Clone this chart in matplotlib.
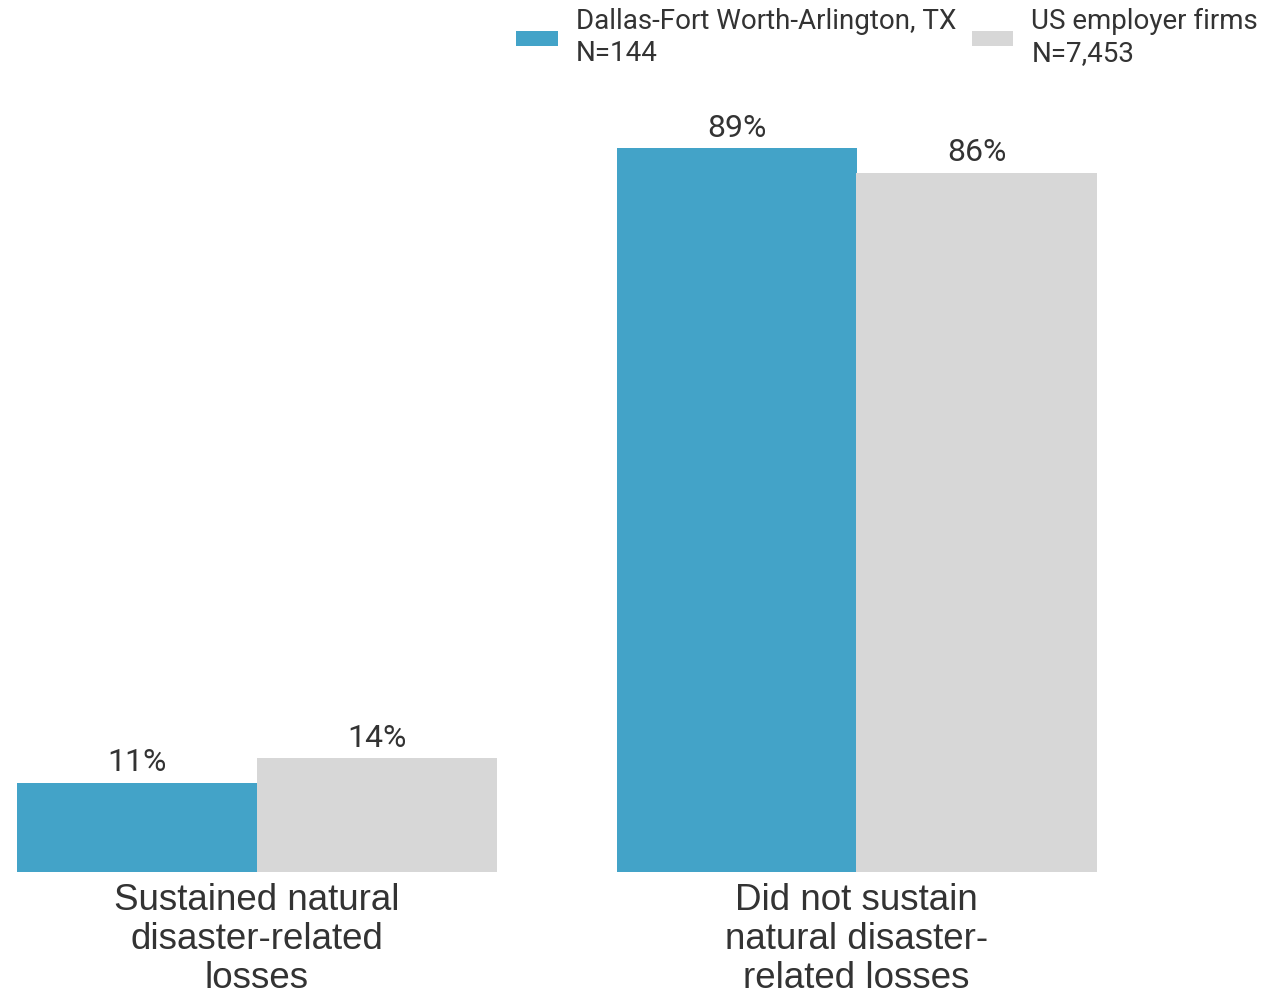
import numpy as np
import matplotlib.pyplot as plt

categories = ["Sustained natural\ndisaster-related\nlosses",
              "Did not sustain\nnatural disaster-\nrelated losses"]
series_names = ["Dallas-Fort Worth-Arlington, TX\nN=144", "US employer firms\nN=7,453"]
dallas = [11, 89]
us_firms = [14, 86]

blue = "#43a3c8"
gray = "#d7d7d7"
txt = "#333333"

fig = plt.figure(figsize=(12.64, 9.94), dpi=100)
# axes placed so that baseline and scale match the reference
ax = fig.add_axes([0, 122 / 994, 1, 813 / 994])

x = np.arange(len(categories))
w = 0.4
b1 = ax.bar(x - w / 2, dallas, w, color=blue, label=series_names[0])
b2 = ax.bar(x + w / 2, us_firms, w, color=gray, label=series_names[1])

for bars, vals in [(b1, dallas), (b2, us_firms)]:
    for r, v in zip(bars, vals):
        ax.annotate(f"{v}%", (r.get_x() + r.get_width() / 2, r.get_height()),
                    xytext=(0, 4), textcoords="offset points",
                    ha="center", va="bottom", fontsize=23,
                    family="Roboto", color=txt)

for xi, lab in zip(x, categories):
    ax.text(xi, -1.3, lab, ha="center", va="top", fontsize=26.5,
            family="Liberation Sans", color=txt, linespacing=1.16)

ax.set_xlim(-256.5 / 600, (1264 - 256.5) / 600)
ax.set_ylim(0, 100)
ax.axis("off")

leg = fig.legend(loc="upper right", bbox_to_anchor=(1258 / 1264, 1 - 8 / 994),
                 ncol=2, frameon=False,
                 prop={"family": "Roboto", "size": 20},
                 handlelength=1.5, handleheight=0.45, handletextpad=0.65,
                 columnspacing=0.55, borderpad=0, borderaxespad=0)
for t in leg.get_texts():
    t.set_color(txt)
    t.set_linespacing(1.25)

fig.savefig("out.png", dpi=100)
